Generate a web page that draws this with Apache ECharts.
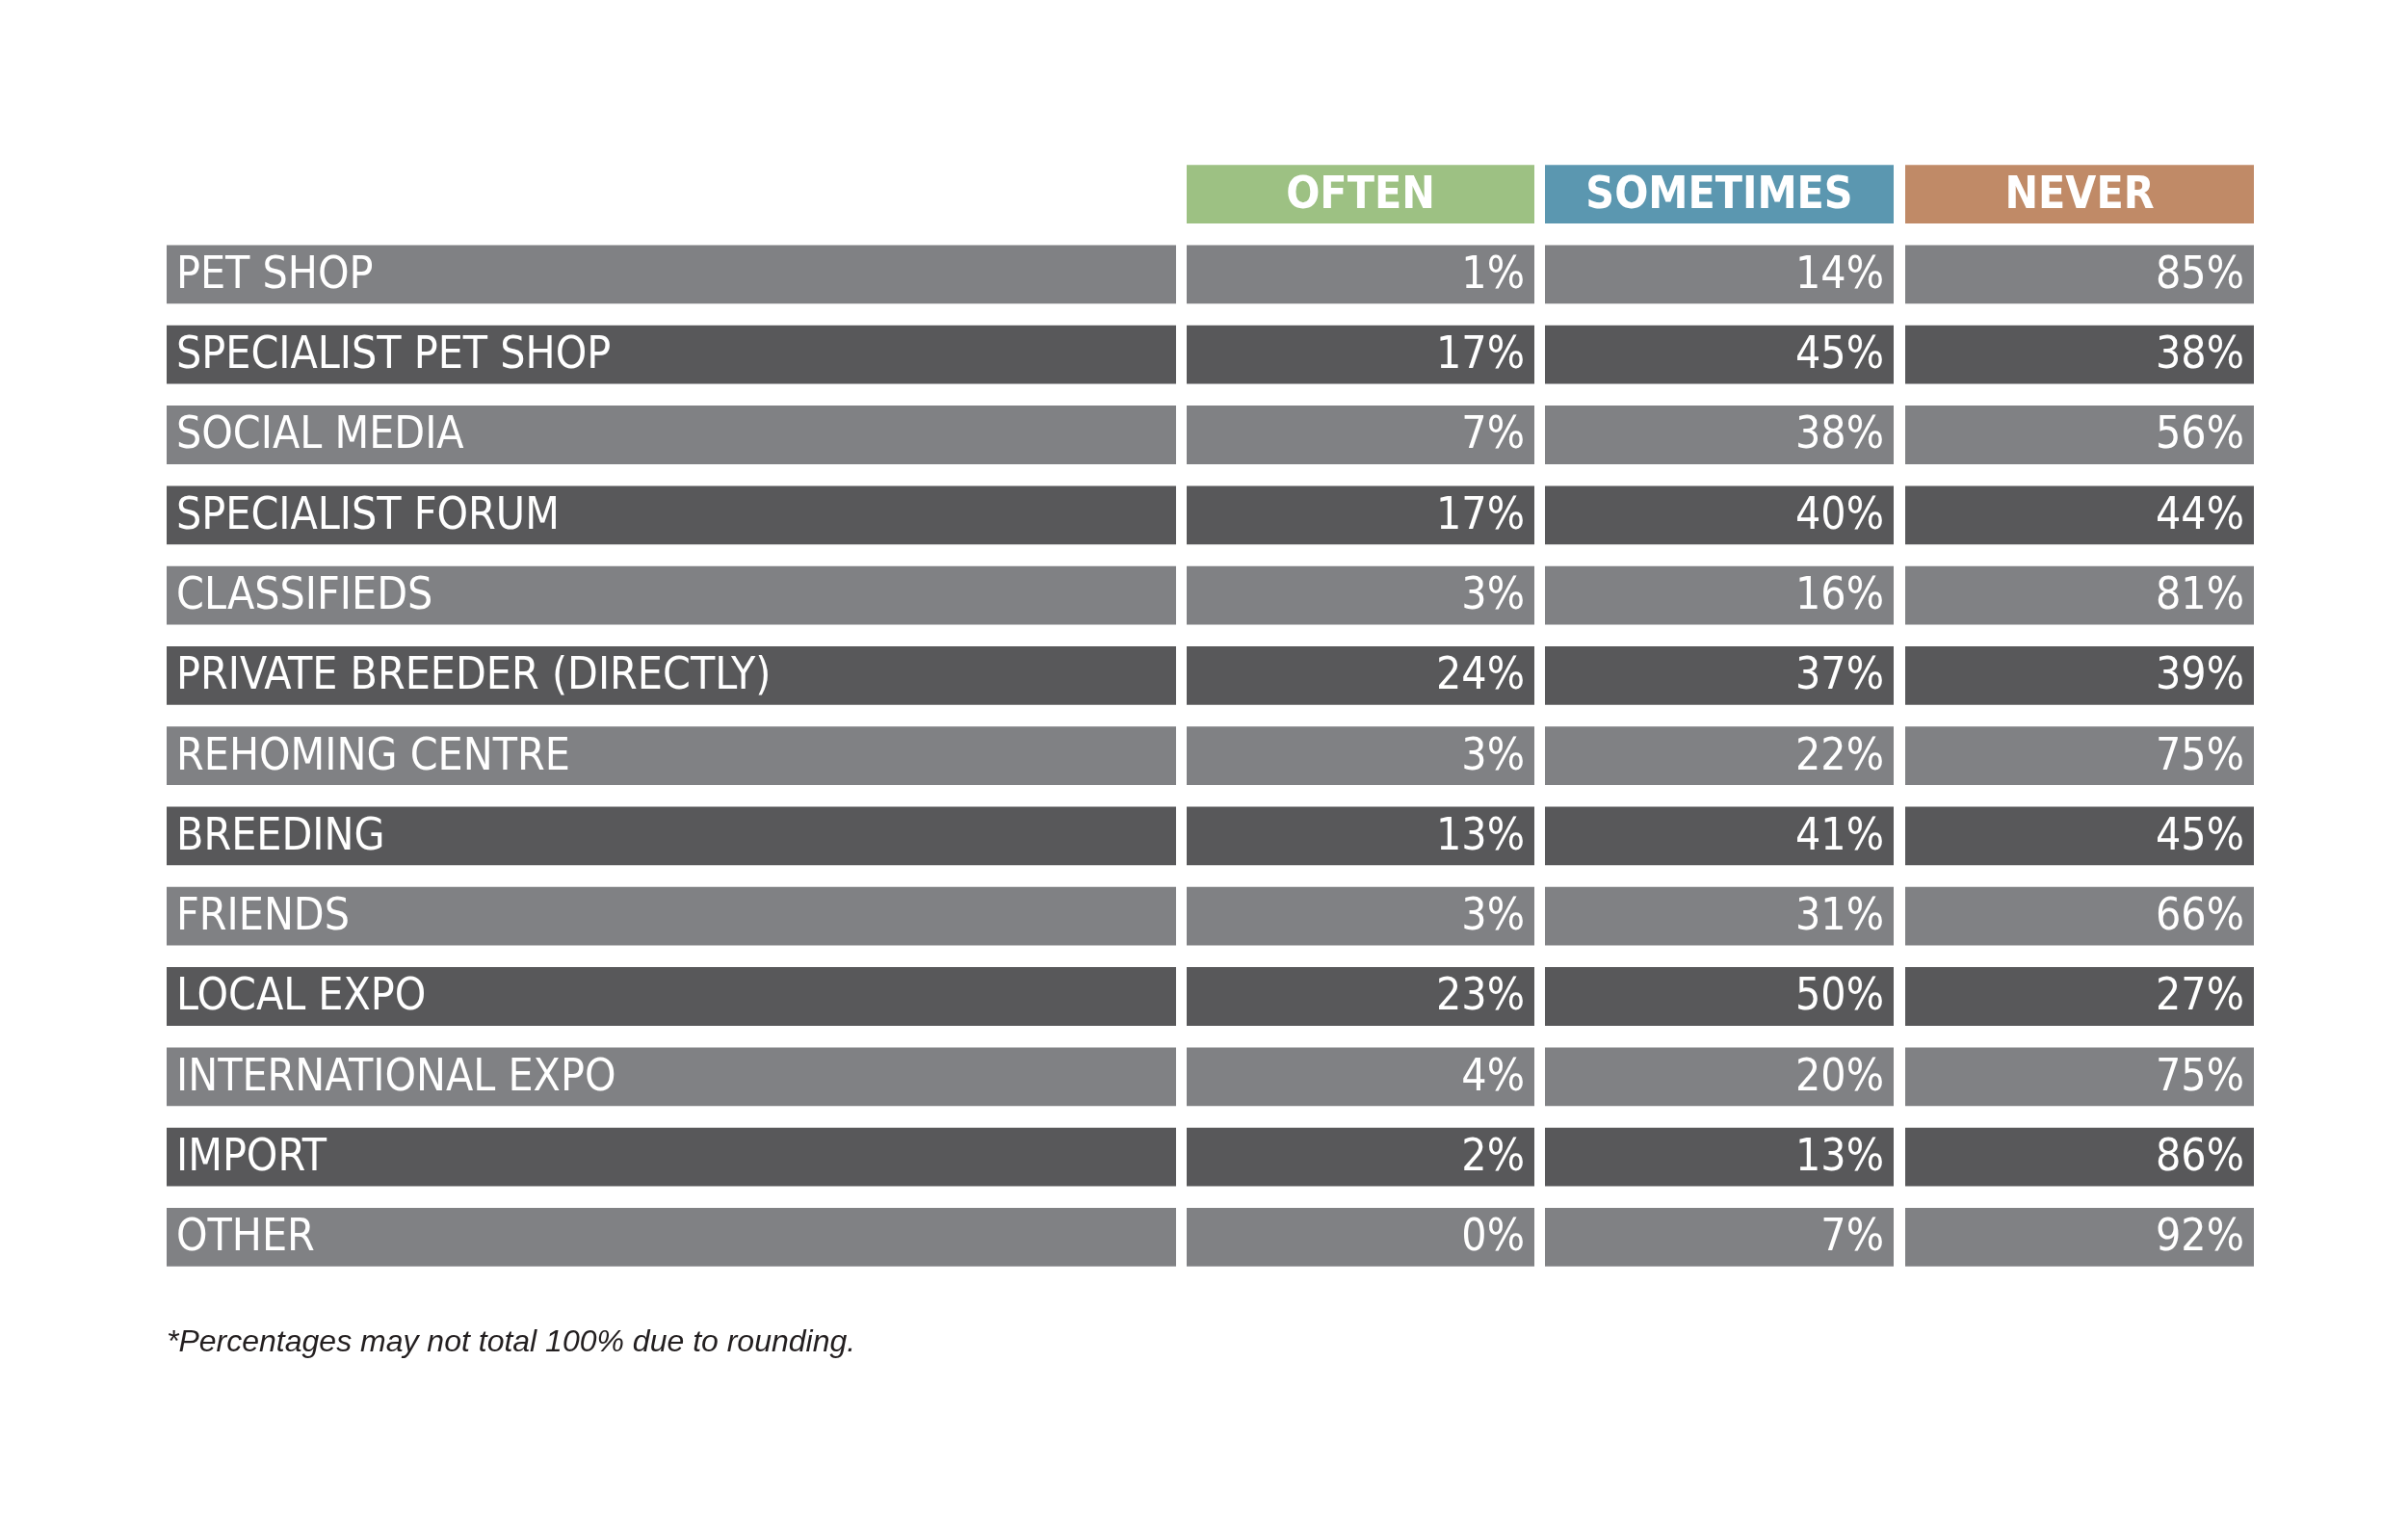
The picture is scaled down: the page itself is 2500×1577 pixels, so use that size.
<!DOCTYPE html>
<html><head><meta charset="utf-8">
<script src="https://cdn.jsdelivr.net/npm/echarts@6/dist/echarts.min.js"></script>
<style>html,body{margin:0;background:#fff}#main{width:2500px;height:1577px}</style>
</head><body><div id="main"></div>
<script>
var sources = ['PET SHOP', 'SPECIALIST PET SHOP', 'SOCIAL MEDIA', 'SPECIALIST FORUM', 'CLASSIFIEDS',
  'PRIVATE BREEDER (DIRECTLY)', 'REHOMING CENTRE', 'BREEDING', 'FRIENDS', 'LOCAL EXPO',
  'INTERNATIONAL EXPO', 'IMPORT', 'OTHER'];
var often = [1, 17, 7, 17, 3, 24, 3, 13, 3, 23, 4, 2, 0];
var sometimes = [14, 45, 38, 40, 16, 37, 22, 41, 31, 50, 20, 13, 7];
var never = [85, 38, 56, 44, 81, 39, 75, 45, 66, 27, 75, 86, 92];
var headers = ['OFTEN', 'SOMETIMES', 'NEVER'];
var headerColors = ['#9dc183', '#5b97b0', '#c08a67'];

// column edges in x-axis units
var cols = [[0, 1048], [1059, 1420], [1431, 1793], [1805, 2167]];
var font = '"Liberation Sans Narrow", "DejaVu Sans Condensed", sans-serif';

var rows = [''].concat(sources);
var data = [];
headers.forEach(function (h, i) { data.push([i + 1, 0, h, headerColors[i], 'h']); });
sources.forEach(function (s, r) {
  var c = r % 2 ? '#58585a' : '#808184';
  data.push([0, r + 1, s, c, 'l']);
  [often, sometimes, never].forEach(function (arr, i) {
    data.push([i + 1, r + 1, arr[r] + '%', c, 'v']);
  });
});

var chart = echarts.init(document.getElementById('main'));
chart.setOption({
  animation: false,
  grid: { left: 173, width: 2167, top: 160, height: 1166 },
  xAxis: { type: 'value', min: 0, max: 2167, show: false },
  yAxis: { type: 'category', data: rows, inverse: true, show: false },
  series: [{
    type: 'custom',
    data: data,
    renderItem: function (params, api) {
      var ci = api.value(0), ri = api.value(1);
      var d = data[params.dataIndex];
      var x0 = api.coord([cols[ci][0], ri])[0];
      var x1 = api.coord([cols[ci][1], ri])[0];
      var yc = api.coord([0, ri])[1];
      var h = api.size([0, 1])[1] * 0.73;
      var kind = d[4];
      var tx, align;
      if (kind === 'h') { tx = (x0 + x1) / 2; align = 'center'; }
      else if (kind === 'l') { tx = x0 + 10; align = 'left'; }
      else { tx = x1 - 10; align = 'right'; }
      return { type: 'group', children: [
        { type: 'rect', shape: { x: x0, y: yc - h / 2, width: x1 - x0, height: h }, style: { fill: d[3] } },
        { type: 'text', x: tx, y: yc + 2, style: { text: d[2], fill: '#fff', align: align, verticalAlign: 'middle',
          font: (kind === 'h' ? 'bold ' : '') + '46px ' + font } }
      ] };
    }
  }],
  graphic: [{ type: 'text', left: 173, top: 1378,
    style: { text: '*Percentages may not total 100% due to rounding.', fill: '#231f20',
      font: 'italic 32px "Liberation Sans", Arial, sans-serif' } }]
});
</script></body></html>
